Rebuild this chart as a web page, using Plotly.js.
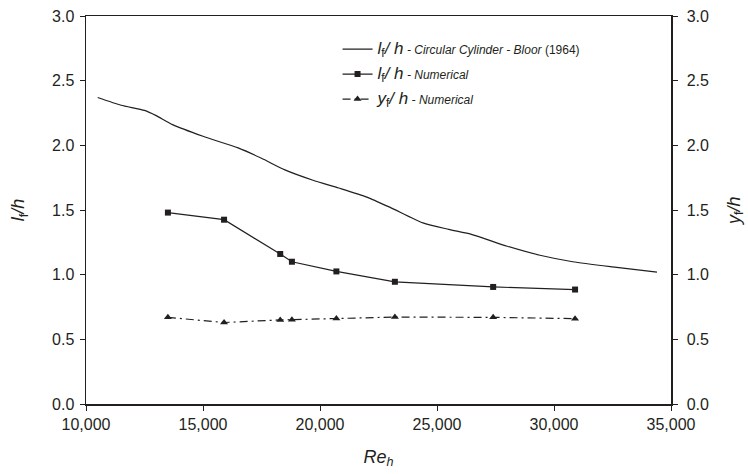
<!DOCTYPE html>
<html>
<head>
<meta charset="utf-8">
<script src="https://cdn.plot.ly/plotly-3.0.1.min.js"></script>
<style>html,body{margin:0;padding:0;background:#fff;}#chart{width:748px;height:474px;}</style>
</head>
<body>
<div id="chart"></div>
<script>
// Bloor (1964) circular cylinder correlation
const bloorRe = [10500, 11500, 12500, 13000, 13700, 15000, 16500, 17500, 18500, 19700, 20800, 22000, 23000, 24400, 25500, 26500, 28000, 29400, 30800, 32500, 34400];
const bloorLf = [2.37, 2.31, 2.27, 2.23, 2.16, 2.07, 1.98, 1.90, 1.81, 1.73, 1.67, 1.60, 1.52, 1.40, 1.35, 1.31, 1.22, 1.15, 1.10, 1.06, 1.02];
// Numerical results
const numRe = [13500, 15900, 18300, 18800, 20700, 23200, 27400, 30900];
const numLf = [1.48, 1.425, 1.16, 1.10, 1.025, 0.945, 0.905, 0.885];
const numYf = [0.67, 0.63, 0.65, 0.652, 0.662, 0.672, 0.670, 0.66];

const yTicks = [0, 0.5, 1, 1.5, 2, 2.5, 3];
const xTicks = [10000, 15000, 20000, 25000, 30000, 35000];

const ink = '#231f20';
const big = 'font-size:17px';

const traces = [
  {
    x: bloorRe, y: bloorLf, type: 'scatter', mode: 'lines', legendgroup: 'a',
    line: {color: ink, width: 1.2, shape: 'spline', smoothing: 0.6},
    name: '<span style="' + big + '"><i>l</i><sub>f</sub><i>/ h</i></span><i> - Circular Cylinder - Bloor</i> (1964)'
  },
  {
    x: numRe, y: numLf, type: 'scatter', mode: 'lines+markers', legendgroup: 'b',
    line: {color: ink, width: 1.2},
    marker: {symbol: 'square', size: 6, color: ink},
    name: '<span style="' + big + '"><i>l</i><sub>f</sub><i>/ h</i></span><i> - Numerical</i>'
  },
  {
    x: numRe, y: numYf, type: 'scatter', mode: 'lines+markers', yaxis: 'y2', legendgroup: 'c',
    line: {color: ink, width: 1.2, dash: '8px,4px,2px,4px'},
    marker: {symbol: 'triangle-up', size: 7, color: ink},
    name: '<span style="' + big + '"><i>y</i><sub>f</sub><i>/ h</i></span><i> - Numerical</i>'
  }
];

const tickFont = {family: 'Liberation Sans, Arial, sans-serif', size: 16, color: ink};
const titleFont = {family: 'Liberation Sans, Arial, sans-serif', size: 18, color: ink};

const layout = {
  width: 748, height: 474,
  margin: {l: 86, r: 77, t: 16, b: 70, pad: 0},
  paper_bgcolor: '#fff', plot_bgcolor: '#fff',
  font: {family: 'Liberation Sans, Arial, sans-serif', color: ink},
  showlegend: true,
  legend: {
    x: 0.43, y: 0.952, xanchor: 'left', yanchor: 'top',
    bgcolor: 'rgba(0,0,0,0)', borderwidth: 0,
    font: {size: 12, color: ink, family: 'Liberation Sans, Arial, sans-serif'},
    itemwidth: 30, traceorder: 'grouped', tracegroupgap: 6
  },
  xaxis: {
    range: [10000, 35000], tickvals: xTicks, tickformat: ',d',
    ticks: 'outside', ticklen: 5, tickwidth: 1, tickcolor: ink,
    showline: true, linecolor: ink, linewidth: 1.5, mirror: true,
    showgrid: false, zeroline: false, tickfont: tickFont,
    title: {text: '<i>Re</i><sub><i>h</i></sub>', font: titleFont, standoff: 18}
  },
  yaxis: {
    range: [0, 3], tickvals: yTicks, tickformat: '.1f',
    ticks: 'outside', ticklen: 5, tickwidth: 1, tickcolor: ink,
    ticklabelstandoff: 2,
    showline: true, linecolor: ink, linewidth: 1.5,
    showgrid: false, zeroline: false, tickfont: tickFont,
    title: {text: '<i>l</i><sub>f</sub><i>/h</i>', font: titleFont, standoff: 22}
  },
  yaxis2: {
    range: [0, 3], tickvals: yTicks, tickformat: '.1f',
    overlaying: 'y', side: 'right',
    ticks: 'outside', ticklen: 5, tickwidth: 1, tickcolor: ink,
    ticklabelstandoff: 6,
    showline: true, linecolor: ink, linewidth: 1.5,
    showgrid: false, zeroline: false, tickfont: tickFont
  },
  annotations: [{
    text: '<i>y</i><sub>f</sub><i>/h</i>', xref: 'paper', yref: 'paper',
    x: 1.109, y: 0.497, xanchor: 'center', yanchor: 'middle',
    textangle: -90, showarrow: false, font: titleFont
  }]
};

Plotly.newPlot('chart', traces, layout, {staticPlot: true, displayModeBar: false});
</script>
</body>
</html>
